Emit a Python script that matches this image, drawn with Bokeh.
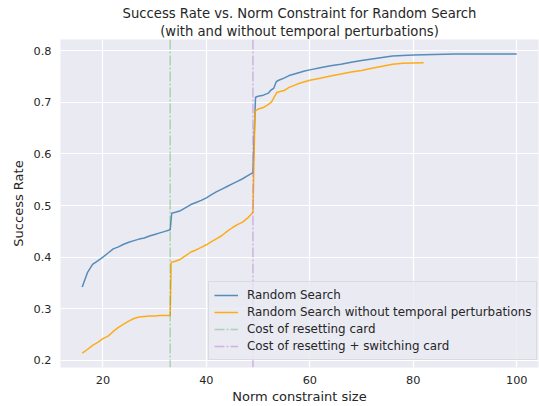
from bokeh.plotting import figure
from bokeh.models import Range1d, FixedTicker, Span, Legend, LegendItem, Title
from bokeh.embed import file_html
from bokeh.resources import INLINE

# ---- data ----
rs_x = [16, 17, 18, 19, 20, 21, 22, 23, 24, 25, 26, 27, 28, 29, 30, 31, 32, 33,
        33.3, 34, 35, 36, 37, 38, 39, 40, 41, 42, 43, 44, 45, 46, 47, 48, 49,
        49.5, 50, 51, 52, 52.5, 53, 53.5, 54, 55, 56, 57, 58, 59, 60, 62, 64, 66,
        68, 70, 72, 74, 76, 78, 80, 84, 88, 100]
rs_y = [0.342, 0.370, 0.386, 0.393, 0.400, 0.408, 0.416, 0.420, 0.425, 0.429,
        0.432, 0.435, 0.437, 0.441, 0.444, 0.447, 0.450, 0.453,
        0.485, 0.487, 0.490, 0.496, 0.502, 0.506, 0.510, 0.515, 0.521, 0.527,
        0.532, 0.537, 0.542, 0.547, 0.552, 0.558, 0.564,
        0.710, 0.712, 0.714, 0.718, 0.724, 0.727, 0.740, 0.743, 0.747, 0.752,
        0.755, 0.758, 0.761, 0.763, 0.767, 0.771, 0.774, 0.778, 0.781, 0.784,
        0.787, 0.790, 0.791, 0.792, 0.793, 0.794, 0.794]

nt_x = [16, 17, 18, 19, 20, 21, 22, 23, 24, 25, 26, 27, 28, 29, 30, 31, 32, 33,
        33.2, 34, 35, 36, 37, 38, 39, 40, 41, 42, 43, 44, 45, 46, 47, 48, 49,
        49.4, 50, 51, 52, 52.6, 53.6, 55, 56, 57, 58, 59, 60, 62, 64, 66, 68,
        70, 72, 74, 76, 78, 82]
nt_y = [0.214, 0.221, 0.229, 0.235, 0.242, 0.247, 0.256, 0.264, 0.270, 0.276,
        0.281, 0.284, 0.285, 0.286, 0.286, 0.287, 0.287, 0.287,
        0.390, 0.392, 0.396, 0.403, 0.410, 0.414, 0.419, 0.424, 0.430, 0.436,
        0.442, 0.450, 0.457, 0.463, 0.468, 0.476, 0.487,
        0.683, 0.687, 0.690, 0.696, 0.701, 0.719, 0.723, 0.729, 0.733, 0.737,
        0.740, 0.743, 0.747, 0.751, 0.755, 0.759, 0.762, 0.766, 0.770, 0.774,
        0.776, 0.777]

reset_cost = 33
reset_switch_cost = 49

x_ticks = [20, 40, 60, 80, 100]
y_ticks = [0.2, 0.3, 0.4, 0.5, 0.6, 0.7, 0.8]

FONT = "DejaVu Sans"
TXT = "#262626"

p = figure(width=539, height=406, output_backend="svg", toolbar_location=None,
           x_range=Range1d(11.8, 104.2), y_range=Range1d(0.1861, 0.8219),
           min_border_left=60, min_border_right=1, min_border_top=39,
           min_border_bottom=38)
p.title = None
p.background_fill_color = "#EAEAF2"
p.border_fill_color = "white"
p.outline_line_color = None

for ax in (p.xaxis[0], p.yaxis[0]):
    ax.axis_line_color = None
    ax.major_tick_line_color = None
    ax.minor_tick_line_color = None
    ax.major_tick_out = 0
    ax.major_tick_in = 0
    ax.minor_tick_out = 0
    ax.minor_tick_in = 0
    ax.major_label_text_font = FONT
    ax.major_label_text_font_size = "11.3px"
    ax.major_label_text_color = TXT
    ax.axis_label_text_font = FONT
    ax.axis_label_text_font_size = "13px"
    ax.axis_label_text_font_style = "normal"
    ax.axis_label_text_color = TXT

p.xaxis[0].ticker = FixedTicker(ticks=x_ticks)
p.yaxis[0].ticker = FixedTicker(ticks=y_ticks)
p.xaxis[0].axis_label = "Norm constraint size"
p.yaxis[0].axis_label = "Success Rate"
p.xaxis[0].major_label_standoff = 8
p.yaxis[0].major_label_standoff = 9
p.xaxis[0].axis_label_standoff = 2
p.yaxis[0].axis_label_standoff = 5

p.xgrid.grid_line_color = "white"
p.ygrid.grid_line_color = "white"
p.xgrid.grid_line_width = 1.2
p.ygrid.grid_line_width = 1.2

sub = Title(text="(with and without temporal perturbations)", align="center",
            text_font=FONT, text_font_size="13.2px", text_font_style="normal",
            text_color=TXT, standoff=2)
main = Title(text="Success Rate vs. Norm Constraint for Random Search", align="center",
             text_font=FONT, text_font_size="13.2px", text_font_style="normal",
             text_color=TXT, standoff=0)
p.add_layout(sub, "above")
p.add_layout(main, "above")

r1 = p.line(rs_x, rs_y, line_color="steelblue", line_width=1.5, line_alpha=0.9)
r2 = p.line(nt_x, nt_y, line_color="orange", line_width=1.5, line_alpha=0.9)

green = "#2ca02c"
purple = "#b070c8"
dash = "10 2 2 2"
s1 = Span(location=reset_cost, dimension="height", line_color=green,
          line_alpha=0.32, line_width=1.5, line_dash=dash)
s2 = Span(location=reset_switch_cost, dimension="height", line_color=purple,
          line_alpha=0.45, line_width=1.5, line_dash=dash)
p.add_layout(s1)
p.add_layout(s2)

# legend proxies for the spans (drawn outside the visible range)
g1 = p.line([-100, -99], [0, 0], line_color=green, line_alpha=0.32,
            line_width=1.5, line_dash=dash)
g2 = p.line([-100, -99], [0, 0], line_color=purple, line_alpha=0.45,
            line_width=1.5, line_dash=dash)

legend = Legend(items=[
    LegendItem(label="Random Search", renderers=[r1]),
    LegendItem(label="Random Search without temporal perturbations", renderers=[r2]),
    LegendItem(label="Cost of resetting card", renderers=[g1]),
    LegendItem(label="Cost of resetting + switching card", renderers=[g2]),
], location=(148, 7))
legend.label_text_font = FONT
legend.label_text_font_size = "11.9px"
legend.label_text_color = TXT
legend.glyph_width = 24
legend.glyph_height = 16
legend.label_height = 16
legend.label_standoff = 9
legend.spacing = 1
legend.padding = 5
legend.margin = 0
legend.background_fill_color = "#EAEAF2"
legend.background_fill_alpha = 0.8
legend.border_line_color = "#cccccc"
legend.border_line_width = 1
p.add_layout(legend, "center")

open("out.html", "w").write(file_html(p, INLINE))
